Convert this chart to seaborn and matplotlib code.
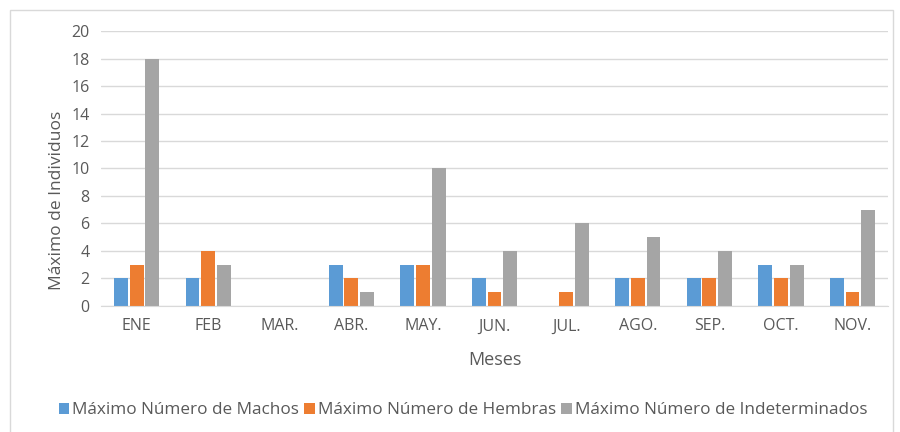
import matplotlib
matplotlib.use("Agg")
import matplotlib.pyplot as plt
import pandas as pd
import seaborn as sns
from matplotlib.patches import Rectangle

meses = ["ENE", "FEB", "MAR.", "ABR.", "MAY.", "JUN.", "JUL.", "AGO.", "SEP.", "OCT.", "NOV."]
machos = [2, 2, 0, 3, 3, 2, 0, 2, 2, 3, 2]
hembras = [3, 4, 0, 2, 3, 1, 1, 2, 2, 2, 1]
indeterminados = [18, 3, 0, 1, 10, 4, 6, 5, 4, 3, 7]
series = ["Máximo Número de Machos", "Máximo Número de Hembras", "Máximo Número de Indeterminados"]
colores = ["#5B9BD5", "#ED7D31", "#A5A5A5"]

df = pd.DataFrame({"Mes": meses * 3,
                   "Valor": machos + hembras + indeterminados,
                   "Serie": [s for s in series for _ in meses]})

sns.set_style("white")
plt.rcParams["font.family"] = ["Open Sans", "DejaVu Sans"]
txt = "#595959"

fig = plt.figure(figsize=(9, 4.32), dpi=100)
ax = fig.add_axes([0.112, 0.292, 0.875, 0.636])
sns.barplot(data=df, x="Mes", y="Valor", hue="Serie", palette=colores,
            saturation=1, width=0.66, gap=0.12, linewidth=0, ax=ax, legend=True)

ax.set_ylim(0, 20)
ax.set_yticks(range(0, 21, 2))
ax.yaxis.grid(True, color="#D9D9D9", linewidth=1)
ax.set_axisbelow(True)
for s in ["top", "right", "left"]:
    ax.spines[s].set_visible(False)
ax.spines["bottom"].set_color("#D9D9D9")
ax.tick_params(axis="both", length=0, colors=txt, labelsize=11.5)
ax.tick_params(axis="x", pad=9)
ax.tick_params(axis="y", pad=8)
ax.set_xlim(-0.5, len(meses) - 0.5)
ax.set_xlabel("Meses", color=txt, fontsize=13, labelpad=12)
ax.set_ylabel("Máximo de Individuos", color=txt, fontsize=12.5)
ax.yaxis.set_label_coords(-0.045, 0.385)

handles, labels = ax.get_legend_handles_labels()
ax.legend(handles, labels, loc="center", bbox_to_anchor=(0.46, -0.38), ncol=3,
          frameon=False, fontsize=12.3, labelcolor=txt, handlelength=0.6,
          handleheight=0.6, handletextpad=0.2, columnspacing=0.3)

fig.patches.append(Rectangle((0.011, -0.01), 0.981, 0.987, transform=fig.transFigure,
                             fill=False, edgecolor="#D9D9D9", linewidth=1))
fig.savefig("out.png", dpi=100)
